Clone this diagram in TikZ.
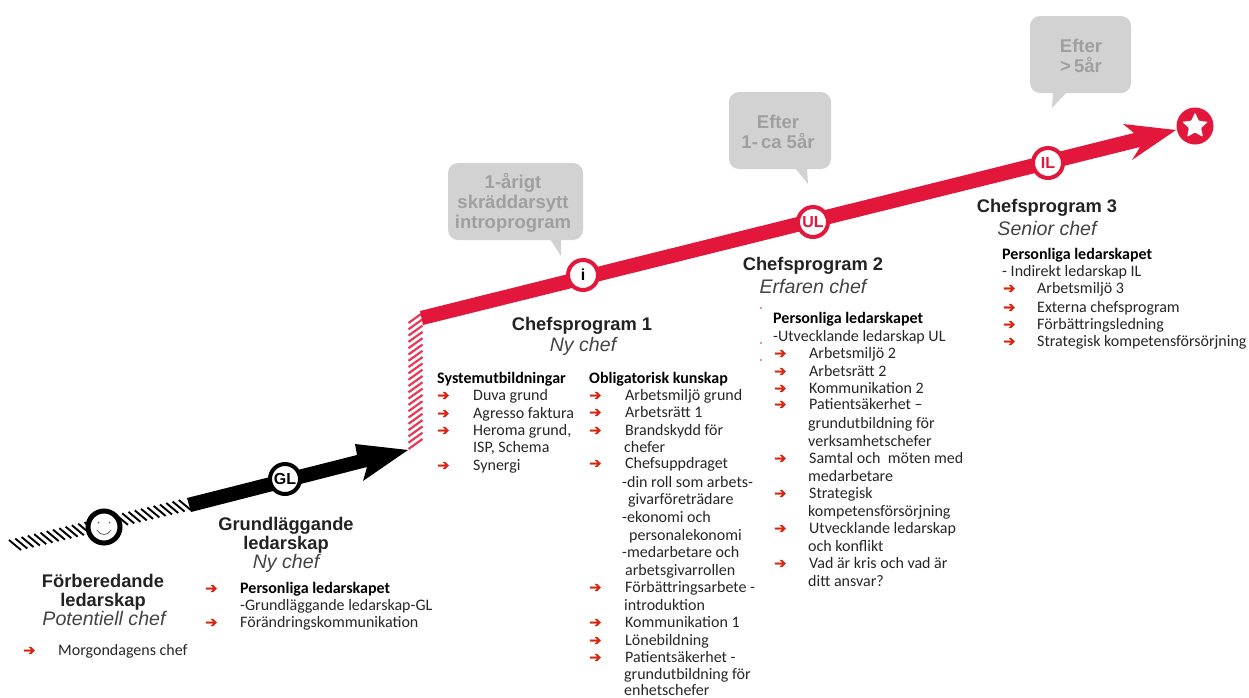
\documentclass[tikz,border=0pt]{standalone}
\usepackage{fontspec}
\setmainfont{Carlito}
\newfontfamily\headfont{Liberation Sans}
\newfontfamily\symfont[FakeBold=1.6]{DejaVu Sans}
\usetikzlibrary{shapes.geometric,calc}
\definecolor{rd}{HTML}{E2173B}
\definecolor{bub}{HTML}{D2D2D2}
\definecolor{bubtxt}{HTML}{9F9F9F}
\definecolor{arrowred}{HTML}{D9250F}
\definecolor{headtxt}{HTML}{222222}
\newcounter{tl}
\tikzset{
 body/.style={anchor=base west,inner sep=0pt,font=\fontsize{16}{17}\selectfont,text=black!85},
 boldbody/.style={body,font=\bfseries\fontsize{16}{17}\selectfont,text=black},
 bullet/.style={anchor=base west,inner sep=0pt,text=arrowred,font=\symfont\fontsize{14.5}{14.5}\selectfont},
 head/.style={align=center,inner sep=0pt,text=headtxt,font=\headfont\bfseries\fontsize{18.3}{19}\selectfont},
 sub/.style={align=center,inner sep=0pt,text=headtxt!85,font=\headfont\itshape\fontsize{19.6}{19}\selectfont},
 bubtext/.style={align=center,inner sep=0pt,text=bubtxt,font=\headfont\bfseries\fontsize{18.5}{20}\selectfont},
 ring/.style={circle,draw,fill=white,minimum size=30pt,inner sep=0pt,line width=4pt,font=\headfont\bfseries\fontsize{16}{16}\selectfont},
 bubble/.style={fill=bub,rounded corners=10pt},
}
% plain line of text: x, baseline y, text
\newcommand{\tline}[3]{\stepcounter{tl}\node[body] (t\arabic{tl}) at (#1,#2) {#3};}
% bold line of text
\newcommand{\bline}[3]{\stepcounter{tl}\node[boldbody] (t\arabic{tl}) at (#1,#2) {#3};}
% arrow bullet: x, baseline y
\newcommand{\bul}[2]{\stepcounter{tl}\node[bullet] (t\arabic{tl}) at (#1,#2) {➔};}
\begin{document}
\begin{tikzpicture}[x=1pt,y=-1pt]
\useasboundingbox (0,0) rectangle (1249,697);
% hatched start
\coordinate (hs) at (15,545);
\coordinate (hc) at (185,505);
\foreach \t in {0,0.037,...,1.001}{
  \draw[black,line width=1.9pt] ($(hs)!\t!(hc)+(-6,-5)$) -- ($(hs)!\t!(hc)+(6,5)$);
}
% black arrow
\fill[black] (187,498) -- (357,455) -- (355,444) -- (408,450) -- (363,481) -- (367,467) -- (191,512) -- cycle;
% red hatched vertical
\foreach \t in {0,0.05,...,1.001}{
  \draw[rd!85,line width=2.2pt] (408.5,{449-\t*126}) -- (422.5,{439-\t*126});
}
% red arrow
\fill[rd] (420,311) -- (1134,133) -- (1123,124) -- (1176,130) -- (1132,160) -- (1140,147) -- (423,325) -- cycle;
% bubbles
\fill[bubble] (448,163) rectangle (583,240);
\fill[bub] (550,239) -- (561,256) -- (561,239) -- cycle;
\fill[bubble] (729,92) rectangle (831,169);
\fill[bub] (795,168) -- (808,184) -- (807,168) -- cycle;
\fill[bubble] (1030,16) rectangle (1131,93);
\fill[bub] (1053,92) -- (1052,108) -- (1067,92) -- cycle;
\node[bubtext] (b1) at (513,203) {1-årigt\\skräddarsytt\\introprogram};
\node[bubtext] (b2) at (778,132) {Efter\\1-\,ca 5år};
\node[bubtext] (b3) at (1081,56) {Efter\\>\,5år};
% markers
\node[ring,minimum size=32pt,line width=5pt] (smile) at (104,527) {};
\fill[black!60] (98.5,522.5) circle (1pt) (109.5,522.5) circle (1pt);
\draw[black!60,line width=0.8pt] (97,530) .. controls (100,536) and (108,536) .. (111,530);
\node[ring] (gl) at (285,479) {GL};
\node[ring,draw=rd] (i) at (583,275) {i};
\node[ring,draw=rd,text=rd] (ul) at (813,222) {UL};
\node[ring,draw=rd,text=rd] (il) at (1048,163) {IL};
\node[circle,fill=rd,minimum size=37pt,inner sep=0pt] (goal) at (1195,126) {};
\node[star,star points=5,star point ratio=2.1,fill=white,minimum size=27pt,inner sep=0pt,rounded corners=1pt] (goalstar) at (1195,126) {};
% headings
\node[head] (h1) at (103,592) {Förberedande\\ledarskap};
\node[sub] (s1) at (104,618) {Potentiell chef};
\node[head] (h2) at (286,535) {Grundläggande\\ledarskap};
\node[sub] (s2) at (286,563) {Ny chef};
\node[head] (h3) at (582,325.5) {Chefsprogram 1};
\node[sub] (s3) at (583,346) {Ny chef};
\node[head] (h4) at (813,266) {Chefsprogram 2};
\node[sub] (s4) at (813,286) {Erfaren chef};
\node[head] (h5) at (1047,208) {Chefsprogram 3};
\node[sub] (s5) at (1047,228) {Senior chef};
% Förberedande
\bul{23}{655}\tline{58}{655}{Morgondagens chef}
% GL
\bul{205}{593}\bline{240}{593}{Personliga ledarskapet}
\tline{240}{610}{-Grundläggande ledarskap-GL}
\bul{205}{627}\tline{240}{627}{Förändringskommunikation}
% Systemutbildningar
\bline{437}{383}{Systemutbildningar}
\bul{437}{400}\tline{473}{400}{Duva grund}
\bul{437}{418}\tline{473}{418}{Agresso faktura}
\bul{437}{435}\tline{473}{435}{Heroma grund,}
\tline{473}{452}{ISP, Schema}
\bul{437}{470}\tline{473}{470}{Synergi}
% Obligatorisk
\bline{589}{383}{Obligatorisk kunskap}
\bul{589}{400}\tline{625}{400}{Arbetsmiljö grund}
\bul{589}{417}\tline{625}{417}{Arbetsrätt 1}
\bul{589}{435}\tline{625}{435}{Brandskydd för}
\tline{624}{452}{chefer}
\bul{589}{468}\tline{625}{468}{Chefsuppdraget}
\tline{622}{487}{-din roll som arbets-}
\tline{628}{504}{givarföreträdare}
\tline{622}{522}{-ekonomi och}
\tline{629}{540}{personalekonomi}
\tline{622}{557}{-medarbetare och}
\tline{625}{575}{arbetsgivarrollen}
\bul{589}{592}\tline{625}{592}{Förbättringsarbete -}
\tline{624}{610}{introduktion}
\bul{589}{627}\tline{625}{627}{Kommunikation 1}
\bul{589}{645}\tline{625}{645}{Lönebildning}
\bul{589}{662}\tline{625}{662}{Patientsäkerhet -}
\tline{624}{679}{grundutbildning för}
\tline{624}{695}{enhetschefer}
% UL
\bline{773}{323}{Personliga ledarskapet}
\tline{773}{341}{-Utvecklande ledarskap UL}
\bul{774}{358}\tline{809}{358}{Arbetsmiljö 2}
\bul{774}{376}\tline{809}{376}{Arbetsrätt 2}
\bul{774}{393}\tline{809}{393}{Kommunikation 2}
\bul{774}{409}\tline{809}{409}{Patientsäkerhet –}
\tline{808}{428}{grundutbildning för}
\tline{808}{446}{verksamhetschefer}
\bul{774}{463}\tline{809}{463}{Samtal och\ \ möten med}
\tline{808}{481}{medarbetare}
\bul{774}{498}\tline{809}{498}{Strategisk}
\tline{808}{516}{kompetensförsörjning}
\bul{774}{533}\tline{809}{533}{Utvecklande ledarskap}
\tline{808}{551}{och konflikt}
\bul{774}{568}\tline{809}{568}{Vad är kris och vad är}
\tline{808}{586}{ditt ansvar?}
% IL
\bline{1002}{259}{Personliga ledarskapet}
\tline{1002}{276}{- Indirekt ledarskap IL}
\bul{1003}{293}\tline{1037}{293}{Arbetsmiljö 3}
\bul{1003}{312}\tline{1037}{312}{Externa chefsprogram}
\bul{1003}{329}\tline{1037}{329}{Förbättringsledning}
\bul{1003}{346}\tline{1037}{346}{Strategisk kompetensförsörjning}
% small marks
\fill[rd] (761,308) circle (0.8pt) (761,343) circle (0.8pt) (761,360) circle (0.8pt);
\end{tikzpicture}
\end{document}
